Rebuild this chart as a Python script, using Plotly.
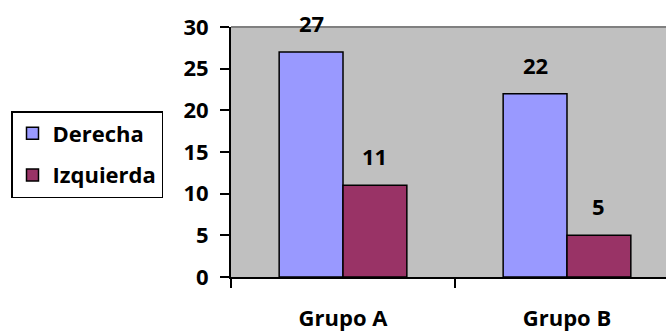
import plotly.graph_objects as go

# Data
categories = ["Grupo A", "Grupo B"]
series_names = ["Derecha", "Izquierda"]
derecha = [27, 22]
izquierda = [11, 5]
y_ticks = [0, 5, 10, 15, 20, 25, 30]

colors = ["#9999FF", "#993366"]
FONT = "Open Sans"
FS = 22

W, H = 666, 331
margin = dict(l=231, r=0, t=27, b=54)
x_range = [-0.5, 1.442]
bargap = 0.43

fig = go.Figure()
for name, vals, col in zip(series_names, [derecha, izquierda], colors):
    fig.add_trace(go.Bar(
        name=name, x=categories, y=vals,
        marker=dict(color=col, line=dict(color="black", width=1.5)),
        legendgroup=name,
    ))

# value labels above each bar, shifted to the bar's slot in the group
plot_w = W - margin["l"] - margin["r"]
px_per_unit = plot_w / (x_range[1] - x_range[0])
bar_w_px = (1 - bargap) / 2 * px_per_unit
for i, vals in enumerate([derecha, izquierda]):
    shift = (i - 0.5) * bar_w_px
    for cat, v in zip(categories, vals):
        fig.add_annotation(
            x=cat, y=v, xref="x", yref="y", text=str(v), showarrow=False,
            xshift=shift, yshift=29, yanchor="middle",
            font=dict(family=FONT, size=FS, color="black", weight="bold"),
        )

# grey top border of the plot area
fig.add_shape(type="line", xref="paper", yref="paper", x0=0, x1=1, y0=1, y1=1,
              line=dict(color="#808080", width=2))

fig.update_layout(
    width=W, height=H, margin=margin,
    paper_bgcolor="white", plot_bgcolor="#C0C0C0",
    barmode="group", bargap=bargap, bargroupgap=0,
    font=dict(family=FONT, size=FS, color="black", weight="bold"),
    legend=dict(
        x=(11 - margin["l"]) / plot_w, xanchor="left",
        y=(H - margin["b"] - 111) / (H - margin["t"] - margin["b"]), yanchor="top",
        bordercolor="black", borderwidth=1.5, bgcolor="white",
        traceorder="grouped", tracegroupgap=10, itemwidth=30,
        font=dict(family=FONT, size=FS, color="black", weight="bold"),
    ),
    xaxis=dict(
        range=x_range, showline=True, linecolor="black", linewidth=2,
        ticks="outside", tickson="boundaries", ticklen=9, tickwidth=2, tickcolor="black",
        showgrid=False, ticklabelstandoff=21, fixedrange=True,
    ),
    yaxis=dict(
        range=[0, 30], tickvals=y_ticks, showline=True, linecolor="black", linewidth=2,
        ticks="outside", ticklen=9, tickwidth=2, tickcolor="black",
        showgrid=False, zeroline=False, ticklabelstandoff=7, fixedrange=True,
    ),
)

fig.write_html("out.html")
